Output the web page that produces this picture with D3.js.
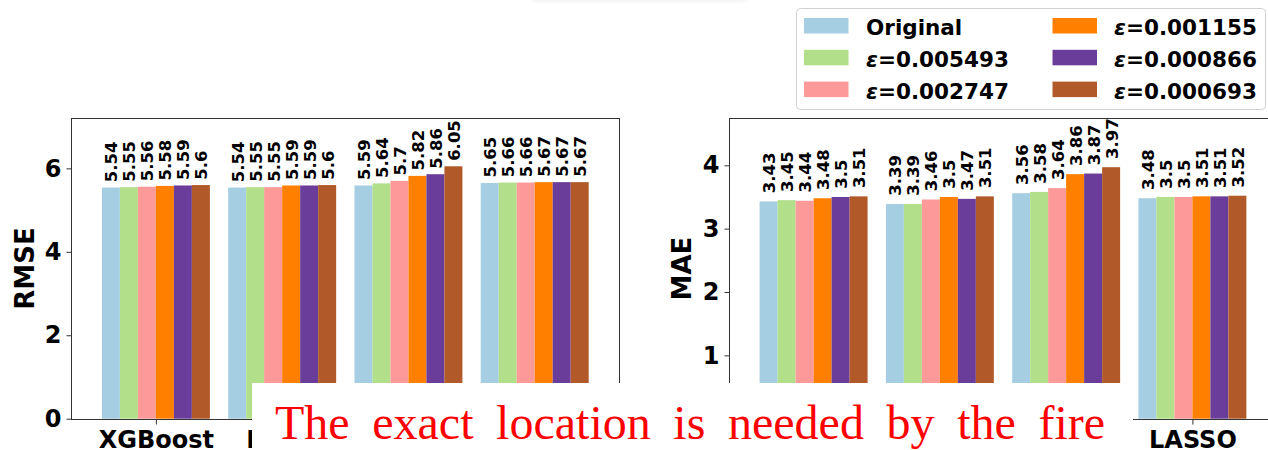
<!DOCTYPE html>
<html>
<head>
<meta charset="utf-8">
<script src="https://cdn.jsdelivr.net/npm/d3@7"></script>
<style>
  html, body { margin: 0; padding: 0; background: #fff; }
  svg { display: block; }
  text { font-family: "DejaVu Sans", sans-serif; }
</style>
</head>
<body>
<svg id="chart" width="1268" height="450"></svg>
<script>
// Models compared on the x axis
const models = ["XGBoost", "LSTM", "MLP", "LASSO"];

// Privacy settings (one bar per setting inside each model group)
const settings = ["Original", "ε=0.005493", "ε=0.002747", "ε=0.001155", "ε=0.000866", "ε=0.000693"];
const settingColors = ["#a6cee3", "#b2df8a", "#fb9a99", "#ff7f00", "#6a3d9a", "#b15928"];

// RMSE per model, one value per setting
const rmseXGBoost = [5.54, 5.55, 5.56, 5.58, 5.59, 5.6];
const rmseLSTM    = [5.54, 5.55, 5.55, 5.59, 5.59, 5.6];
const rmseMLP     = [5.59, 5.64, 5.7, 5.82, 5.86, 6.05];
const rmseLASSO   = [5.65, 5.66, 5.66, 5.67, 5.67, 5.67];

// MAE per model, one value per setting
const maeXGBoost = [3.43, 3.45, 3.44, 3.48, 3.5, 3.51];
const maeLSTM    = [3.39, 3.39, 3.46, 3.5, 3.47, 3.51];
const maeMLP     = [3.56, 3.58, 3.64, 3.86, 3.87, 3.97];
const maeLASSO   = [3.48, 3.5, 3.5, 3.51, 3.51, 3.52];

// Axis ticks
const rmseTicks = [0, 2, 4, 6];
const maeTicks = [0, 1, 2, 3, 4];

const svg = d3.select("#chart");

// faint floating panel at the top edge
const defs = svg.append("defs");
const blur = defs.append("filter").attr("id", "soft").attr("x", "-20%").attr("y", "-50%").attr("width", "140%").attr("height", "200%");
blur.append("feGaussianBlur").attr("stdDeviation", 1.5);
svg.append("rect").attr("x", 530).attr("y", -40).attr("width", 218).attr("height", 42)
  .attr("rx", 6).attr("fill", "#f3f3f3").attr("filter", "url(#soft)");
svg.append("rect").attr("x", 530).attr("y", -40).attr("width", 218).attr("height", 40)
  .attr("rx", 6).attr("fill", "#fff");

const barW = 0.1425;
const valueOffset = 0.13;

function panel(opts) {
  const { left, right, yMax, ticks, label, labelX, series } = opts;
  const top = 118.3, bottom = 418.7;
  const x = d3.scaleLinear().domain([-0.67, 3.67]).range([left, right]);
  const y = d3.scaleLinear().domain([0, yMax]).range([bottom, top]);
  const g = svg.append("g");

  // bars
  series.forEach((vals, gi) => {
    vals.forEach((v, si) => {
      const cx = gi + (si - 2.5) * barW;
      g.append("rect")
        .attr("x", x(cx - barW / 2))
        .attr("width", x(cx + barW / 2) - x(cx - barW / 2))
        .attr("y", y(v))
        .attr("height", y(0) - y(v))
        .attr("fill", settingColors[si]);
      g.append("text")
        .attr("transform", `translate(${x(cx) + 1},${y(v + valueOffset)}) rotate(-90)`)
        .attr("text-anchor", "start")
        .attr("dominant-baseline", "central")
        .attr("font-size", 16.5)
        .attr("font-weight", "bold")
        .attr("fill", "#000")
        .text(String(v));
    });
  });

  // frame
  g.append("rect")
    .attr("x", Math.round(left) + 0.5).attr("y", Math.round(top) + 0.5)
    .attr("width", right - left).attr("height", Math.round(bottom) - Math.round(top))
    .attr("fill", "none").attr("stroke", "#333").attr("stroke-width", 1);

  // y axis
  const ya = g.append("g").attr("transform", `translate(${Math.round(left) + 0.5},0)`)
    .call(d3.axisLeft(y).tickValues(ticks).tickSize(5).tickPadding(5).tickSizeOuter(0).tickFormat(d3.format("d")));
  ya.select(".domain").remove();
  ya.selectAll("line").attr("stroke", "#333");
  ya.selectAll("text").attr("font-size", 24).attr("font-weight", "bold").attr("fill", "#000")
    .attr("font-family", "DejaVu Sans");

  // x axis
  const xa = g.append("g").attr("transform", `translate(0,${Math.round(bottom) + 0.5})`)
    .call(d3.axisBottom(x).tickValues([0, 1, 2, 3]).tickSize(5).tickPadding(6).tickSizeOuter(0)
      .tickFormat(i => models[i]));
  xa.select(".domain").remove();
  xa.selectAll("line").attr("stroke", "#333");
  xa.selectAll("text").attr("font-size", 24).attr("font-weight", "bold").attr("fill", "#000")
    .attr("font-family", "DejaVu Sans");

  // axis title
  g.append("text")
    .attr("transform", `translate(${labelX},${(top + bottom) / 2}) rotate(-90)`)
    .attr("text-anchor", "middle").attr("dominant-baseline", "central")
    .attr("font-size", 26).attr("font-weight", "bold").attr("fill", "#000")
    .text(label);
}

panel({
  left: 71.3, right: 619.3, yMax: 7.2, ticks: rmseTicks, label: "RMSE", labelX: 24.5,
  series: [rmseXGBoost, rmseLSTM, rmseMLP, rmseLASSO]
});
panel({
  left: 729, right: 1277, yMax: 4.742, ticks: maeTicks, label: "MAE", labelX: 682,
  series: [maeXGBoost, maeLSTM, maeMLP, maeLASSO]
});

// legend
const lg = svg.append("g");
lg.append("rect").attr("x", 796.5).attr("y", 8.5).attr("width", 469).attr("height", 101)
  .attr("rx", 4).attr("fill", "#fff").attr("fill-opacity", 0.85)
  .attr("stroke", "#d0d0d0").attr("stroke-width", 1);
settings.forEach((s, i) => {
  const col = Math.floor(i / 3), row = i % 3;
  const px = col === 0 ? 804 : 1052.5;
  const tx = col === 0 ? 866 : 1114;
  const cy = 26 + row * 31.8;
  lg.append("rect").attr("x", px).attr("y", cy - 8).attr("width", 44.5).attr("height", 15.5)
    .attr("fill", settingColors[i]);
  const t = lg.append("text").attr("x", tx).attr("y", cy + 1)
    .attr("dominant-baseline", "central").attr("font-size", 21.5).attr("font-weight", "bold").attr("fill", "#000");
  if (s.startsWith("ε")) {
    t.append("tspan").attr("font-style", "italic").text("ε");
    t.append("tspan").text(s.slice(1));
  } else {
    t.text(s);
  }
});

// caption panel laid over the lower middle of the figure
const cap = svg.append("g");
cap.append("rect").attr("x", 252).attr("y", 383).attr("width", 881).attr("height", 70).attr("fill", "#fff");
const capText = cap.append("text")
  .attr("x", 275).attr("y", 439)
  .attr("font-size", 48).attr("fill", "#ff0000")
  .style("font-family", "'Liberation Serif', 'Times New Roman', serif")
  .text("The exact location is needed by the fire");
// spread the words so the line spans the panel like justified text
const natural = capText.node().getComputedTextLength();
const spaces = 7;
capText.attr("word-spacing", Math.max(0, (1105 - 275 - natural) / spaces));
</script>
</body>
</html>
